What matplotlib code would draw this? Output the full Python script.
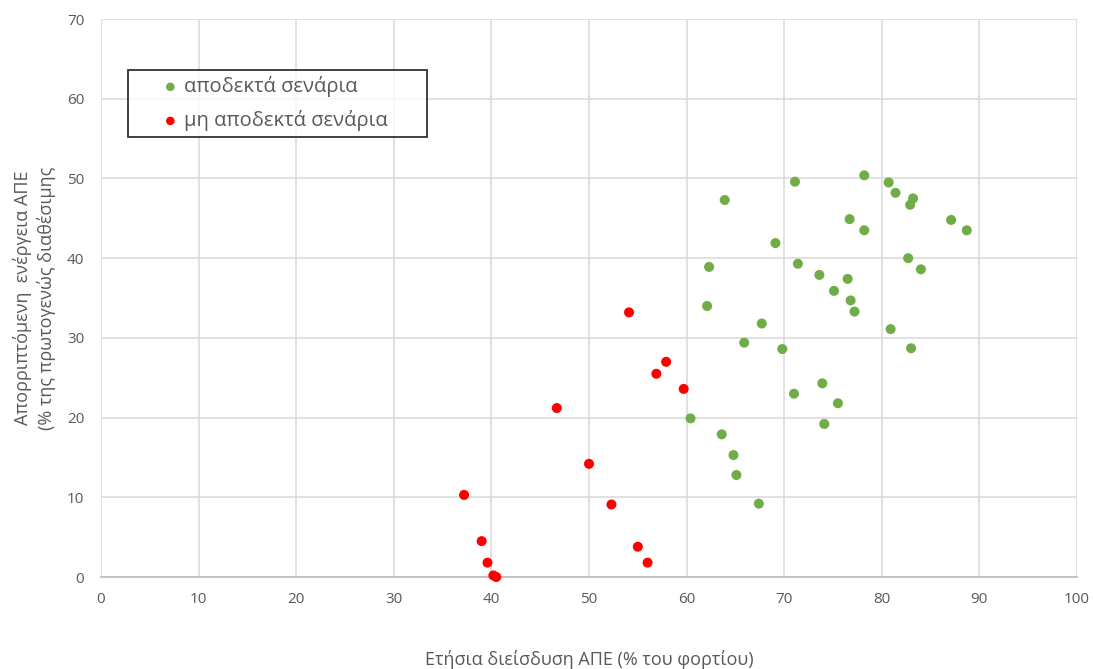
import matplotlib
matplotlib.use('Agg')
import matplotlib.pyplot as plt
import matplotlib as mpl

mpl.rcParams['font.family'] = ['Open Sans', 'DejaVu Sans']

# acceptable scenarios: (RES penetration %, curtailed RES energy %)
ok_x = [78.2, 71.1, 80.7, 81.4, 83.2, 82.9, 63.9, 76.7, 87.1, 78.2, 88.7, 69.1,
        82.7, 62.3, 71.4, 84.0, 73.6, 76.5, 75.1, 76.8, 62.1, 77.2, 67.7, 80.9,
        65.9, 69.8, 83.0, 73.9, 71.0, 75.5, 60.4, 74.1, 63.6, 64.8, 65.1, 67.4]
ok_y = [50.4, 49.6, 49.5, 48.2, 47.5, 46.7, 47.3, 44.9, 44.8, 43.5, 43.5, 41.9,
        40.0, 38.9, 39.3, 38.6, 37.9, 37.4, 35.9, 34.7, 34.0, 33.3, 31.8, 31.1,
        29.4, 28.6, 28.7, 24.3, 23.0, 21.8, 19.9, 19.2, 17.9, 15.3, 12.8, 9.2]

# rejected scenarios
bad_x = [54.1, 57.9, 56.9, 59.7, 46.7, 50.0, 37.2, 52.3, 39.0, 55.0, 39.6, 56.0, 40.2, 40.5]
bad_y = [33.2, 27.0, 25.5, 23.6, 21.2, 14.2, 10.3, 9.1, 4.5, 3.8, 1.8, 1.8, 0.2, 0.0]

labels = ['αποδεκτά σενάρια', 'μη αποδεκτά σενάρια']
x_label = 'Ετήσια διείσδυση ΑΠΕ (% του φορτίου)'
y_label = 'Απορριπτόμενη  ενέργεια ΑΠΕ\n(% της πρωτογενώς διαθέσιμης'

green = '#70AD47'
red = '#FF0000'
grey_txt = '#595959'

fig = plt.figure(figsize=(10.93, 6.69), dpi=100)
ax = fig.add_axes([0.0924, 0.1375, 0.893, 0.834])

ax.scatter(ok_x, ok_y, s=52, color=green, edgecolors='none', zorder=3, label=labels[0], clip_on=False)
ax.scatter(bad_x, bad_y, s=52, color=red, edgecolors='none', zorder=3, label=labels[1], clip_on=False)

ax.set_xlim(0, 100)
ax.set_ylim(0, 70)
ax.set_xticks(range(0, 101, 10))
ax.set_yticks(range(0, 71, 10))
ax.grid(True, color='#d9d9d9', lw=1.1, zorder=0)
ax.set_axisbelow(True)
for side in ['top', 'right', 'left']:
    ax.spines[side].set_visible(False)
ax.spines['bottom'].set_color('#bfbfbf')
ax.spines['bottom'].set_linewidth(1.3)
ax.tick_params(length=0, colors=grey_txt, labelsize=11)
ax.tick_params(axis='x', pad=11)
ax.tick_params(axis='y', pad=12)

ax.set_xlabel(x_label, fontsize=13, color=grey_txt, labelpad=31)
ax.set_ylabel(y_label, fontsize=13, color=grey_txt, labelpad=8, linespacing=1.3)

# fixed-width legend box, text left aligned
leg = ax.legend(loc='upper left', bbox_to_anchor=(0.0277, 0.9086, 0.306, 0.0), mode='expand',
                fontsize=14.5, frameon=True, fancybox=False, borderpad=0.3,
                handlelength=3.6, handletextpad=-1.1, borderaxespad=0,
                labelspacing=0.65, markerscale=0.85)
leg.get_frame().set_edgecolor('black')
leg.get_frame().set_linewidth(1.3)
for t in leg.get_texts():
    t.set_color(grey_txt)

fig.savefig('out.png', dpi=100)
